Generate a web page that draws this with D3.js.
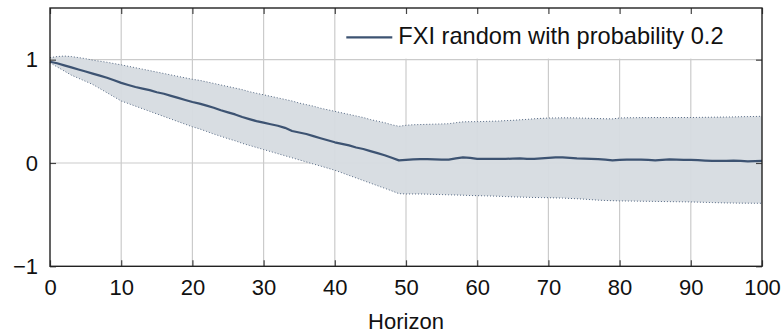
<!DOCTYPE html>
<html>
<head>
<meta charset="utf-8">
<script src="https://cdn.jsdelivr.net/npm/d3@7"></script>
<style>
  html, body { margin: 0; padding: 0; background: #fff; }
  svg { display: block; font-family: "Liberation Sans", Arial, Helvetica, sans-serif; }
</style>
</head>
<body>
<svg id="chart" width="784" height="333"></svg>
<script>
// ---- data ----
const horizon = d3.range(0, 101);
const meanIRF = [
  0.98, 0.965, 0.945, 0.925, 0.905, 0.885, 0.865, 0.845, 0.825, 0.80,
  0.775, 0.755, 0.735, 0.72, 0.705, 0.685, 0.67, 0.65, 0.63, 0.61,
  0.59, 0.575, 0.555, 0.535, 0.51, 0.49, 0.47, 0.445, 0.425, 0.405,
  0.39, 0.375, 0.36, 0.34, 0.31, 0.295, 0.28, 0.26, 0.24, 0.22,
  0.20, 0.185, 0.17, 0.15, 0.135, 0.115, 0.095, 0.075, 0.05, 0.025,
  0.03, 0.035, 0.037, 0.037, 0.035, 0.033, 0.033, 0.045, 0.055, 0.05,
  0.04, 0.04, 0.04, 0.039, 0.04, 0.042, 0.044, 0.04, 0.04, 0.045,
  0.05, 0.055, 0.055, 0.05, 0.045, 0.043, 0.04, 0.038, 0.032, 0.026,
  0.03, 0.033, 0.032, 0.033, 0.03, 0.026, 0.03, 0.035, 0.033, 0.03,
  0.03, 0.027, 0.023, 0.02, 0.02, 0.021, 0.023, 0.02, 0.016, 0.018,
  0.02
];
const upperBand = [
  1.02, 1.03, 1.035, 1.03, 1.02, 1.01, 0.995, 0.985, 0.975, 0.962,
  0.95, 0.936, 0.922, 0.908, 0.894, 0.88, 0.866, 0.852, 0.838, 0.824,
  0.81, 0.80, 0.785, 0.77, 0.755, 0.74, 0.725, 0.71, 0.69, 0.675,
  0.66, 0.645, 0.63, 0.615, 0.60, 0.58, 0.565, 0.55, 0.53, 0.515,
  0.50, 0.485, 0.47, 0.455, 0.44, 0.42, 0.405, 0.39, 0.37, 0.355,
  0.365, 0.37, 0.372, 0.374, 0.376, 0.378, 0.38, 0.39, 0.398, 0.40,
  0.40, 0.402, 0.404, 0.406, 0.41, 0.413, 0.418, 0.422, 0.428, 0.432,
  0.435, 0.436, 0.437, 0.437, 0.436, 0.434, 0.432, 0.43, 0.428, 0.427,
  0.435, 0.438, 0.438, 0.439, 0.439, 0.44, 0.44, 0.44, 0.44, 0.44,
  0.44, 0.441, 0.442, 0.443, 0.444, 0.445, 0.446, 0.448, 0.449, 0.45,
  0.452
];
const lowerBand = [
  0.97, 0.93, 0.89, 0.85, 0.82, 0.79, 0.76, 0.72, 0.68, 0.64,
  0.60, 0.575, 0.55, 0.525, 0.50, 0.475, 0.45, 0.425, 0.40, 0.375,
  0.35, 0.33, 0.305, 0.28, 0.258, 0.235, 0.215, 0.19, 0.17, 0.15,
  0.13, 0.11, 0.09, 0.07, 0.05, 0.03, 0.01, -0.01, -0.03, -0.05,
  -0.07, -0.095, -0.12, -0.145, -0.17, -0.195, -0.22, -0.245, -0.27, -0.297,
  -0.30, -0.30, -0.30, -0.302, -0.304, -0.306, -0.308, -0.31, -0.312, -0.315,
  -0.316, -0.318, -0.32, -0.322, -0.325, -0.328, -0.33, -0.332, -0.334, -0.335,
  -0.336, -0.338, -0.34, -0.343, -0.346, -0.35, -0.355, -0.36, -0.363, -0.365,
  -0.367, -0.368, -0.369, -0.37, -0.371, -0.372, -0.373, -0.374, -0.375, -0.376,
  -0.377, -0.379, -0.381, -0.383, -0.385, -0.387, -0.388, -0.389, -0.389, -0.39,
  -0.39
];
const xTicks = [0, 10, 20, 30, 40, 50, 60, 70, 80, 90, 100];
const yTicks = [-1, 0, 1];
const seriesName = "FXI random with probability 0.2";
const xLabel = "Horizon";

// ---- layout ----
const svg = d3.select("#chart");
const margin = { left: 50, right: 22, top: 8, bottom: 67 };
const W = 784, H = 333;
const x = d3.scaleLinear().domain([0, 100]).range([margin.left, W - margin.right]);
const y = d3.scaleLinear().domain([-1, 1.5]).range([H - margin.bottom + 0.3, margin.top]);

const lineColor = "#3d5372";
const fillColor = "#d6dbe0";
const gridColor = "#cbcbcb";
const fontSize = 22;
const legendFontSize = 23.6;

const data = horizon.map((h, i) => ({ h, m: meanIRF[i], u: upperBand[i], l: lowerBand[i] }));

// grid
const grid = svg.append("g");
grid.selectAll("line.vx").data(xTicks.slice(1, -1)).join("line")
  .attr("x1", d => x(d)).attr("x2", d => x(d))
  .attr("y1", y(-1)).attr("y2", y(1.5))
  .attr("stroke", gridColor).attr("stroke-width", 1.2);
grid.selectAll("line.hy").data([0, 1]).join("line")
  .attr("x1", x(0)).attr("x2", x(100))
  .attr("y1", d => y(d)).attr("y2", d => y(d))
  .attr("stroke", gridColor).attr("stroke-width", 1.2);

// band
svg.append("path").datum(data)
  .attr("d", d3.area().x(d => x(d.h)).y0(d => y(d.l)).y1(d => y(d.u)))
  .attr("fill", fillColor).attr("fill-opacity", 0.95);
svg.append("path").datum(data)
  .attr("d", d3.line().x(d => x(d.h)).y(d => y(d.u)))
  .attr("fill", "none").attr("stroke", lineColor).attr("stroke-width", 1)
  .attr("stroke-dasharray", "1,2").attr("opacity", 0.85);
svg.append("path").datum(data)
  .attr("d", d3.line().x(d => x(d.h)).y(d => y(d.l)))
  .attr("fill", "none").attr("stroke", lineColor).attr("stroke-width", 1)
  .attr("stroke-dasharray", "1,2").attr("opacity", 0.85);

// mean line
svg.append("path").datum(data)
  .attr("d", d3.line().x(d => x(d.h)).y(d => y(d.m)))
  .attr("fill", "none").attr("stroke", lineColor).attr("stroke-width", 2.2)
  .attr("stroke-linejoin", "round");

// legend
const legX0 = x(40) + 2.5, legY0 = y(1.5), legY1 = y(1) - 1;
svg.append("rect").attr("x", legX0).attr("y", legY0)
  .attr("width", x(100) - legX0).attr("height", legY1 - legY0)
  .attr("fill", "#fff");
svg.append("line").attr("x1", legX0 + 9).attr("x2", legX0 + 55)
  .attr("y1", 37.3).attr("y2", 37.3)
  .attr("stroke", lineColor).attr("stroke-width", 2.2);
svg.append("text").attr("x", legX0 + 61).attr("y", 43.5)
  .attr("font-size", legendFontSize).attr("fill", "#111").text(seriesName);

// axes with inward ticks on all sides
const tickLen = 6;
const tickColor = "#444";
const xb = d3.axisBottom(x).tickValues(xTicks).tickSize(-tickLen).tickPadding(13).tickFormat(d3.format("d"));
const xt = d3.axisTop(x).tickValues(xTicks).tickSize(-tickLen).tickFormat("");
const yl = d3.axisLeft(y).tickValues(yTicks).tickSize(-tickLen).tickPadding(12)
  .tickFormat(d => d < 0 ? "\u2212" + Math.abs(d) : String(d));
const yr = d3.axisRight(y).tickValues(yTicks).tickSize(-tickLen).tickFormat("");

function style(g) {
  g.select(".domain").remove();
  g.selectAll(".tick line").attr("stroke", tickColor).attr("stroke-width", 1.2);
  g.selectAll("text").attr("font-size", fontSize).attr("fill", "#111")
    .attr("font-family", "Liberation Sans, Arial, sans-serif");
}
svg.append("g").attr("transform", `translate(0,${y(-1)})`).call(xb).call(style)
  .selectAll("text").attr("dy", "0.71em");
svg.append("g").attr("transform", `translate(0,${y(1.5)})`).call(xt).call(style);
svg.append("g").attr("transform", `translate(${x(0)},0)`).call(yl).call(style);
svg.append("g").attr("transform", `translate(${x(100)},0)`).call(yr).call(style);

// frame
svg.append("rect").attr("x", x(0)).attr("y", y(1.5))
  .attr("width", x(100) - x(0)).attr("height", y(-1) - y(1.5))
  .attr("fill", "none").attr("stroke", "#222").attr("stroke-width", 1.4);

// x label
svg.append("text").attr("x", (x(0) + x(100)) / 2).attr("y", 329)
  .attr("text-anchor", "middle").attr("font-size", fontSize).attr("fill", "#111")
  .text(xLabel);
</script>
</body>
</html>
